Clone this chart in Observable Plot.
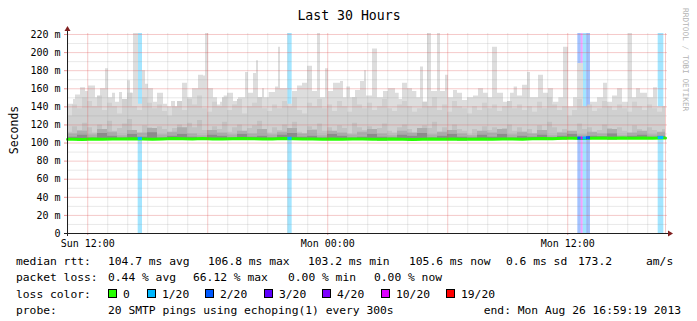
<!DOCTYPE html>
<html><head><meta charset="utf-8">
<script src="https://cdn.jsdelivr.net/npm/d3@7"></script>
<script src="https://cdn.jsdelivr.net/npm/@observablehq/plot@0.6"></script>
<style>
html,body{margin:0;padding:0;background:#fff;}
#chart{position:relative;width:697px;height:321px;overflow:hidden;}
</style></head><body><div id="chart"></div>
<script>
// ---------- data ----------
const windowStart = "2013-08-25T10:59:19Z";
const windowMinutes = 1794;               // last sample drawn
const xTickTimes = ["2013-08-25T12:00:00Z", "2013-08-26T00:00:00Z", "2013-08-26T12:00:00Z"];
const xTickLabels = ["Sun 12:00", "Mon 00:00", "Mon 12:00"];
const yTickValues = [0, 20, 40, 60, 80, 100, 120, 140, 160, 180, 200, 220];
const yTickLabels = ["0", "20 m", "40 m", "60 m", "80 m", "100 m", "120 m", "140 m", "160 m", "180 m", "200 m", "220 m"];

// slowest ping (ping 20 of 20): step start (minutes after window start) and value (ms)
const maxStartMin = [0,18,24,39,54,63,84,99,114,123,135,144,156,165,180,189,198,213,225,234,243,258,270,288,300,312,324,345,360,375,393,408,414,423,438,450,459,470,480,498,513,534,543,558,567,573,585,591,605,624,633,639,660,675,690,705,720,735,750,759,774,783,798,819,828,838,849,864,879,891,897,915,930,948,963,984,995,1005,1020,1035,1048,1059,1068,1080,1092,1110,1119,1134,1143,1158,1170,1185,1200,1218,1233,1248,1262,1275,1290,1308,1329,1340,1350,1365,1380,1389,1413,1428,1443,1458,1474,1488,1503,1518,1530,1548,1569,1590,1608,1620,1635,1650,1665,1683,1695,1707,1719,1740,1758,1770];
const maxValue    = [143,148,153,161,157,163,150,160,182,150,155,145,156,145,169,155,225,143,180,165,160,145,155,143,140,146,138,166,150,160,175,174,225,160,150,142,145,152,155,146,150,178,155,177,191,150,160,150,156,162,206,160,143,157,163,166,185,157,225,150,182,157,166,168,150,162,150,158,168,180,152,204,150,157,160,155,148,166,160,157,150,184,145,225,157,225,157,175,150,158,155,147,150,152,160,155,150,206,155,145,155,162,152,164,178,150,175,155,160,145,150,206,140,150,188,136,145,150,166,145,152,160,145,225,150,160,155,150,161,140];

// inner smoke layers, 15-minute steps
const ping19 = [130,142,138,150,146,140,152,136,144,140,132,148,155,140,136,150,144,138,142,135,130,140,146,136,148,142,152,138,134,145,140,150,136,142,148,132,140,144,150,138,135,142,138,146,140,150,136,132,144,140,148,138,142,135,146,140,134,150,142,138,144,136,140,148,138,135,142,146,140,134,138,145,140,150,136,142,134,146,140,138,132,140,136,144,138,142,135,140,146,138,142,136,140,134,145,138,150,142,136,140,130,136,148,140,142,135,138,146,140,136,142,138,134,145,140,136,142,138,134,140];
const ping18 = [112,118,114,122,117,111,120,115,124,113,116,121,126,114,110,119,117,112,118,115,111,116,120,113,122,117,125,114,110,118,115,123,112,117,120,109,116,119,124,113,111,117,114,120,116,123,112,110,118,115,121,113,117,111,119,116,110,122,117,114,118,112,116,121,113,111,117,120,115,110,113,119,116,123,112,117,110,120,115,113,109,115,112,118,114,117,111,116,120,113,117,112,115,110,119,114,123,117,112,115,108,112,121,115,117,111,114,120,116,112,117,113,110,119,115,112,117,114,111,115];
// inner smoke layers, 30-minute steps
const ping17 = [110,113,109,115,112,108,114,111,116,109,112,117,110,108,114,111,109,113,110,115,109,112,116,110,114,108,113,111,109,112,115,110,108,113,111,116,109,112,114,110,108,113,111,115,109,112,110,114,108,111,113,109,112,110,115,108,111,113,109,112];
const ping16 = [106.5,108.5,105.5,110.5,107.5,105.5,109.5,106.5,111.5,105.5,107.5,109.5,106.5,105.5,108.5,107.5,105.5,109.5,106.5,107.5,105.5,108.5,110.5,106.5,107.5,105.5,109.5,107.5,105.5,106.5,109.5,106.5,105.5,108.5,107.5,110.5,105.5,107.5,109.5,106.5,105.5,108.5,106.5,109.5,105.5,107.5,106.5,108.5,105.5,107.5,109.5,106,107.5,107,110,106.5,107.5,108.5,106.5,107.5];
const pingLow = [102.8,102.6,103.0,102.8,103.1,102.9,103.2,103.0,102.8,103.1,103.4,103.2,103.0,103.3,103.1,102.9,103.2,103.5,103.3,103.0,103.1,103.4,103.2,102.9,103.1,102.8,103.0,102.7,102.9,103.1,102.8,102.6,102.9,102.7,102.5,102.8,103.0,102.7,102.9,102.6,102.8,103.0,102.7,102.9,103.1,102.8,103.3,103.5,103.2,103.7,103.9,103.5,103.8,104.1,103.7,104.0,103.8,104.2,103.9,104.1];
const medianRtt = [104.2,104.0,104.5,104.3,104.6,104.4,104.8,104.5,104.3,104.6,105.0,104.7,104.5,104.9,104.6,104.4,104.7,105.1,104.8,104.5,104.6,104.9,104.7,104.4,104.6,104.3,104.5,104.2,104.4,104.6,104.3,104.1,104.4,104.2,104.0,104.3,104.5,104.2,104.4,104.1,104.3,104.5,104.2,104.4,104.6,104.3,104.8,105.0,104.7,105.2,105.4,105.0,105.3,105.6,105.2,105.5,105.3,105.7,105.4,105.6];

// packet loss events (minutes after window start) and level index into lossLabels
const lossStartMin = [212, 661, 1531, 1541, 1547, 1557, 1772];
const lossEndMin   = [225, 674, 1541, 1547, 1557, 1569, 1789];
const lossLevel    = [1, 1, 2, 5, 1, 2, 1];
const lossLabels = ["0", "1/20", "2/20", "3/20", "4/20", "10/20", "19/20"];
const lossColors = ["#26ff00", "#00b8ff", "#0059ff", "#5e00ff", "#7e00ff", "#dd00ff", "#ff0000"];

// legend texts
const titleText = "Last 30 Hours";
const yAxisLabel = "Seconds";
const watermark = "RRDTOOL / TOBI OETIKER";
const rttRow = [["median rtt:", 16], ["104.7 ms avg", 108], ["106.8 ms max", 208], ["103.2 ms min", 308], ["105.6 ms now", 409], ["0.6 ms sd", 506], ["173.2", 578], ["am/s", 646]];
const lossRow = [["packet loss:", 16], ["0.44 % avg", 108], ["66.12 % max", 193], ["0.00 % min", 288], ["0.00 % now", 374]];
const lossColorX = [108, 147, 205, 264, 322, 381, 446];
const probeLabel = "probe:";
const probeText = "20 SMTP pings using echoping(1) every 300s";
const endText = "end: Mon Aug 26 16:59:19 2013";

// ---------- build ----------
const t0 = Date.parse(windowStart);
const at = m => new Date(t0 + m * 60000);
const lowAt = m => pingLow[Math.min(pingLow.length - 1, Math.floor(m / 30))];
const medAt = m => medianRtt[Math.min(medianRtt.length - 1, Math.floor(m / 30))];

function steps(values, stepMin) {
  const pts = values.map((v, i) => ({m: i * stepMin, v})).filter(p => p.m < windowMinutes);
  pts.push({m: windowMinutes, v: pts[pts.length - 1].v});
  return pts.map(p => ({t: at(p.m), v: p.v, lo: lowAt(p.m)}));
}
const maxData = maxStartMin.map((m, i) => ({t: at(m), v: maxValue[i], lo: lowAt(m)}));
maxData.push({t: at(windowMinutes), v: maxValue[maxValue.length - 1], lo: lowAt(windowMinutes)});

const layers = [
  [maxData, "#dddddd"],
  [steps(ping19, 15), "#d0d0d0"],
  [steps(ping18, 15), "#c2c2c2"],
  [steps(ping17, 30), "#adadad"],
  [steps(ping16, 30), "#8c8c8c"]
];
const medData = medianRtt.map((v, i) => ({t: at(i * 30 + 15), v}));
medData.unshift({t: at(0), v: medianRtt[0]});
medData.push({t: at(windowMinutes), v: medianRtt[medianRtt.length - 1]});

const lossData = lossStartMin.map((s, i) => ({
  x1: at(s), x2: at(lossEndMin[i]), c: lossColors[lossLevel[i]],
  m: medAt((s + lossEndMin[i]) / 2)
}));

const yTop = 221.1;
const hours = d3.utcHour.range(at(0), at(windowMinutes + 1));
const majorHours = hours.filter(d => d.getUTCHours() % 6 === 0);
const minorHours = hours.filter(d => d.getUTCHours() % 6 !== 0);
const minorY = d3.range(10, 221, 20);
const majorY = d3.range(20, 221, 20);
const fontFam = "'DejaVu Sans Mono', monospace";

const svg = Plot.plot({
  width: 697, height: 321,
  marginLeft: 67, marginRight: 30, marginTop: 33, marginBottom: 88,
  style: {fontFamily: fontFam, fontSize: "10px", background: "#fff", color: "#000", overflow: "visible"},
  x: {type: "utc", domain: [at(0), at(1800)]},
  y: {domain: [0, yTop]},
  marks: [
    Plot.rect(lossData, {x1: "x1", x2: "x2", y1: 0, y2: yTop, fill: "c", fillOpacity: 0.36}),
    ...layers.map(([d, c]) => Plot.areaY(d, {x: "t", y1: "lo", y2: "v", curve: "step-after", fill: c, clip: true})),
    Plot.line(medData, {x: "t", y: "v", stroke: "#26ff00", strokeWidth: 3}),
    Plot.rect(lossData, {x1: "x1", x2: "x2", y1: d => d.m - 1.7, y2: d => d.m + 1.7, fill: "c"}),
    Plot.ruleY(minorY, {stroke: "#8f8f8f", strokeOpacity: 0.2}),
    Plot.ruleX(minorHours, {stroke: "#8f8f8f", strokeOpacity: 0.2}),
    Plot.ruleY(majorY, {stroke: "#de4f4f", strokeOpacity: 0.3}),
    Plot.ruleX(majorHours, {stroke: "#de4f4f", strokeOpacity: 0.3}),
    Plot.ruleX([at(windowMinutes)], {stroke: "#de4f4f", strokeOpacity: 0.3}),
    Plot.axisY({ticks: yTickValues, tickFormat: (d) => yTickLabels[yTickValues.indexOf(d)], tickSize: 3, tickPadding: 4, stroke: "#de4f4f", strokeOpacity: 0.6, fill: "#000", fontSize: 10, label: null}),
    Plot.axisX({ticks: xTickTimes.map(d => new Date(d)), tickFormat: d => xTickLabels[xTickTimes.map(s => Date.parse(s)).indexOf(+d)], tickSize: 2, tickPadding: 4, stroke: "#de4f4f", strokeOpacity: 0.6, fill: "#000", fontSize: 10, label: null})
  ]
});

const sx = svg.scale("x"), sy = svg.scale("y");
const g = d3.select(svg).append("g");
const X0 = sx.apply(at(0)), Y0 = sy.apply(0);
const XE = sx.apply(at(windowMinutes)), YT = sy.apply(yTop);
// axes + arrows
g.append("line").attr("x1", X0 - 3).attr("x2", XE + 4).attr("y1", Y0 + 0.5).attr("y2", Y0 + 0.5).attr("stroke", "#1f1f1f");
g.append("line").attr("x1", X0 + 0.5).attr("x2", X0 + 0.5).attr("y1", Y0 + 3).attr("y2", YT - 3).attr("stroke", "#1f1f1f");
g.append("path").attr("d", `M${XE + 3},${Y0 - 2.5}L${XE + 8},${Y0 + 0.5}L${XE + 3},${Y0 + 3.5}Z`).attr("fill", "#801f1f");
g.append("path").attr("d", `M${X0 - 2.5},${YT - 2}L${X0 + 0.5},${YT - 7}L${X0 + 3.5},${YT - 2}Z`).attr("fill", "#801f1f");

const T = (txt, x, y, size, opts = {}) => {
  const e = g.append("text").attr("x", x).attr("y", y).attr("font-size", size).attr("font-family", fontFam)
    .attr("fill", opts.fill || "#000").attr("text-anchor", opts.anchor || "start").text(txt);
  if (opts.rotate != null) e.attr("transform", `rotate(${opts.rotate},${x},${y})`);
  return e;
};
const LF = 11.3;
T(titleText, 349, 20, 13.2, {anchor: "middle"});
T(yAxisLabel, 18, 130, 11.5, {anchor: "middle", rotate: -90});
T(watermark, 683, 8, 7.8, {fill: "#b4b4b4", rotate: 90});
const rows = [265, 281, 298, 314];
rttRow.forEach(([s, x]) => T(s, x, rows[0], LF));
lossRow.forEach(([s, x]) => T(s, x, rows[1], LF));
T("loss color:", 16, rows[2], LF);
lossLabels.forEach((s, i) => {
  g.append("rect").attr("x", lossColorX[i] + 0.5).attr("y", rows[2] - 8.5).attr("width", 8).attr("height", 8)
    .attr("fill", lossColors[i]).attr("stroke", "#000");
  T(s, lossColorX[i] + 15, rows[2], LF);
});
T(probeLabel, 16, rows[3], LF);
T(probeText, 108, rows[3], LF);
T(endText, 681, rows[3], LF, {anchor: "end"});

document.getElementById("chart").appendChild(svg);
</script>
</body></html>
